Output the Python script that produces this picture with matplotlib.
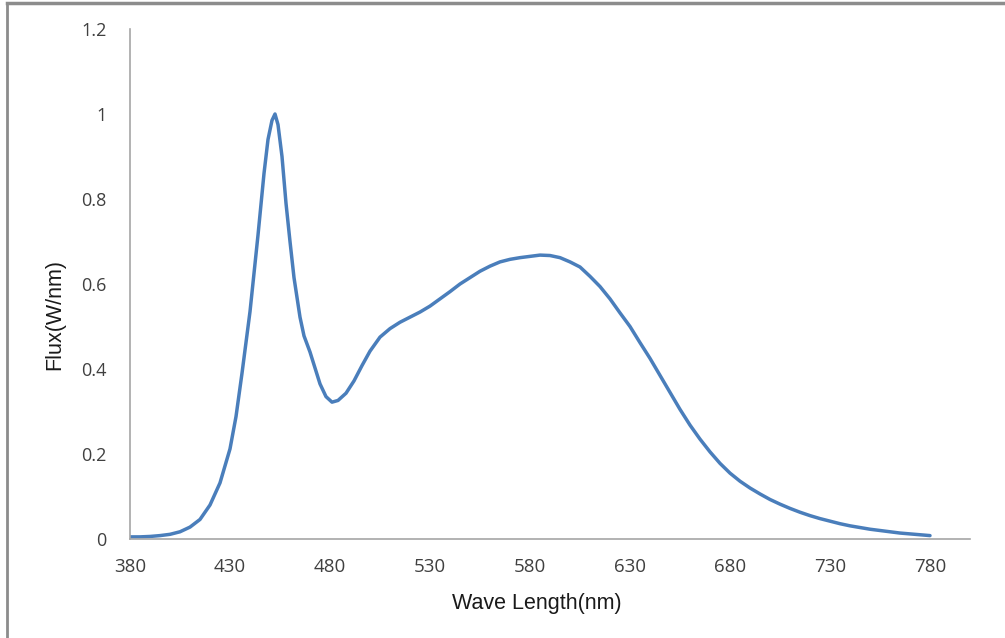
import matplotlib
matplotlib.use("Agg")
import matplotlib.pyplot as plt
from matplotlib.lines import Line2D

wavelength = [380, 385, 390, 395, 400, 405, 410, 415, 420, 425, 430, 433, 436, 440,
              444, 447, 449, 451, 452.5, 454, 456, 458, 460, 462, 465, 467, 470, 475,
              478, 481, 484, 488, 492, 496, 500, 505, 510, 515, 520, 525, 530, 535,
              540, 545, 550, 555, 560, 565, 570, 575, 580, 585, 590, 595, 600, 605,
              610, 615, 620, 625, 630, 635, 640, 645, 650, 655, 660, 665, 670, 675,
              680, 685, 690, 695, 700, 705, 710, 715, 720, 725, 730, 735, 740, 745,
              750, 755, 760, 765, 770, 775, 780]
flux = [0.005, 0.005, 0.006, 0.008, 0.011, 0.017, 0.028, 0.046, 0.080, 0.132, 0.212,
        0.288, 0.390, 0.535, 0.715, 0.860, 0.940, 0.985, 1.000, 0.975, 0.900, 0.790,
        0.700, 0.615, 0.522, 0.478, 0.440, 0.365, 0.335, 0.322, 0.326, 0.343, 0.372,
        0.408, 0.442, 0.475, 0.495, 0.510, 0.522, 0.534, 0.548, 0.565, 0.582, 0.600,
        0.615, 0.630, 0.642, 0.652, 0.658, 0.662, 0.665, 0.668, 0.667, 0.662, 0.652,
        0.640, 0.618, 0.594, 0.565, 0.532, 0.500, 0.462, 0.425, 0.385, 0.345, 0.305,
        0.268, 0.235, 0.205, 0.178, 0.155, 0.136, 0.120, 0.106, 0.093, 0.082, 0.072,
        0.063, 0.055, 0.048, 0.042, 0.036, 0.031, 0.027, 0.023, 0.020, 0.017, 0.014,
        0.012, 0.010, 0.008]
x_ticks = [380, 430, 480, 530, 580, 630, 680, 730, 780]
y_ticks = [0, 0.2, 0.4, 0.6, 0.8, 1.0, 1.2]
y_tick_labels = ["0", "0.2", "0.4", "0.6", "0.8", "1", "1.2"]

W, H = 1005, 638
fig = plt.figure(figsize=(W / 100, H / 100), dpi=100)
ax = fig.add_axes([130 / W, 1 - 539 / H, 840 / W, 510 / H])

ax.plot(wavelength, flux, color="#4a7ebb", lw=2.5, solid_capstyle="round",
        solid_joinstyle="round")

ax.set_xlim(380, 800)
ax.set_ylim(0, 1.2)
ax.set_xticks(x_ticks)
ax.set_xticklabels([str(t) for t in x_ticks])
ax.set_yticks(y_ticks)
ax.set_yticklabels(y_tick_labels)
ax.tick_params(axis="both", length=0, labelcolor="#404040")
ax.tick_params(axis="x", pad=14, labelsize=13.5)
ax.tick_params(axis="y", pad=17, labelsize=13)
for lab in ax.get_xticklabels() + ax.get_yticklabels():
    lab.set_family(["Open Sans", "DejaVu Sans"])

for s in ["top", "right"]:
    ax.spines[s].set_visible(False)
for s in ["left", "bottom"]:
    ax.spines[s].set_color("#a6a6a6")
    ax.spines[s].set_linewidth(1.2)

fig.text(537 / W, 1 - 603 / H, "Wave Length(nm)", ha="center", va="center",
         fontsize=15.5, family=["Liberation Sans", "DejaVu Sans"], color="#1a1a1a")
fig.text(55 / W, 1 - 315 / H, "Flux(W/nm)", ha="center", va="center", rotation=90,
         fontsize=15.5, family=["Liberation Sans", "DejaVu Sans"], color="#1a1a1a")

# outer frame (left and top edges)
fig.add_artist(Line2D([7 / W, 7 / W], [0, 1 - 3 / H], transform=fig.transFigure,
                      color="#8c8c8c", lw=2))
fig.add_artist(Line2D([7 / W, 1], [1 - 3 / H, 1 - 3 / H], transform=fig.transFigure,
                      color="#8c8c8c", lw=2.5))

fig.savefig("out.png", dpi=100)
